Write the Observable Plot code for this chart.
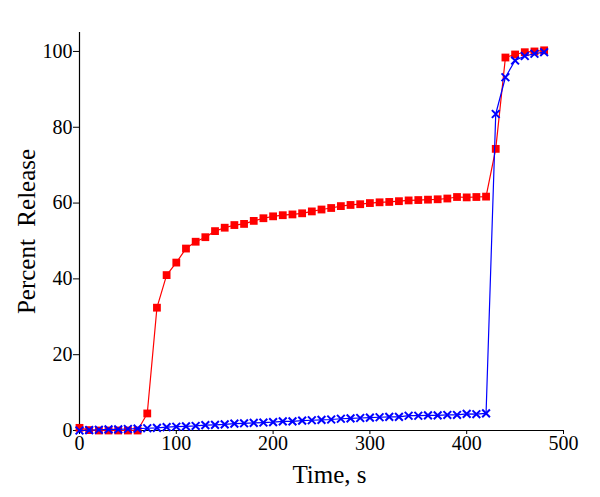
<!DOCTYPE html>
<html>
<head>
<meta charset="utf-8">
<script src="https://cdn.jsdelivr.net/npm/d3@7"></script>
<script src="https://cdn.jsdelivr.net/npm/@observablehq/plot@0.6"></script>
<style>
  html, body { margin: 0; padding: 0; background: #fff; }
  svg { white-space: pre; }
</style>
</head>
<body>
<div id="chart"></div>
<script>
const times = [0,10,20,30,40,50,60,70,80,90,100,110,120,130,140,150,160,170,180,190,200,210,220,230,240,250,260,270,280,290,300,310,320,330,340,350,360,370,380,390,400,410,420,430,440,450,460,470,480];
const redValues = [0.7,0.1,0,0,0,0,0,4.5,32.4,41,44.3,48,49.8,51,52.6,53.5,54.2,54.5,55.3,56,56.5,56.8,57,57.3,57.8,58.3,58.7,59.2,59.5,59.7,60,60.2,60.3,60.5,60.7,60.8,60.9,61,61.2,61.6,61.5,61.6,61.7,74.3,98.4,99.2,99.8,100,100.3];
const blueValues = [0,0.1,0.2,0.3,0.3,0.4,0.5,0.6,0.7,0.9,1.0,1.1,1.2,1.4,1.5,1.6,1.8,1.9,2.0,2.1,2.2,2.4,2.4,2.6,2.7,2.8,2.9,3.1,3.2,3.3,3.4,3.5,3.6,3.6,3.9,3.9,4.0,4.0,4.1,4.1,4.4,4.3,4.5,83.5,93.2,97.6,98.8,99.4,99.8];
const xTicks = [0,100,200,300,400,500];
const yTicks = [0,20,40,60,80,100];
const xLabel = "Time, s";
const yLabel = "Percent  Release";

const red = times.map((t, i) => ({t, v: redValues[i]}));
const blue = times.map((t, i) => ({t, v: blueValues[i]}));
const serif = "'Liberation Serif', 'Times New Roman', serif";

const chart = Plot.plot({
  width: 600,
  height: 497,
  marginLeft: 79,
  marginRight: 37,
  marginTop: 32,
  marginBottom: 67,
  style: {fontFamily: serif, fontSize: "20px", color: "#000", background: "#fff"},
  x: {domain: [0, 500]},
  y: {domain: [0, 105]},
  marks: [
    Plot.axisX({ticks: xTicks, tickSize: 4, tickPadding: 1, label: null, fontSize: 20, fontFamily: serif}),
    Plot.axisY({ticks: yTicks, tickSize: 6, tickPadding: 1, label: null, fontSize: 20, fontFamily: serif}),
    Plot.ruleY([0], {stroke: "#000", strokeWidth: 1.2}),
    Plot.ruleX([0], {stroke: "#000", strokeWidth: 1.2}),
    Plot.line(red, {x: "t", y: "v", stroke: "#ff0000", strokeWidth: 1.2}),
    Plot.dot(red, {x: "t", y: "v", symbol: "square", r: 4.4, fill: "#ff0000", stroke: "none"}),
    Plot.line(blue, {x: "t", y: "v", stroke: "#0000ff", strokeWidth: 1.2}),
    Plot.dot(blue, {x: "t", y: "v", symbol: "times", r: 3.6, stroke: "#0000ff", strokeWidth: 2}),
    Plot.text([xLabel], {frameAnchor: "bottom", lineAnchor: "bottom", dy: 52, dx: 8, fontSize: 25, fill: "#000", fontFamily: serif}),
    Plot.text([yLabel], {frameAnchor: "left", textAnchor: "middle", rotate: -90, lineAnchor: "bottom", dx: -45, fontSize: 25, fill: "#000", fontFamily: serif})
  ]
});
chart.querySelectorAll("text").forEach(t => {
  t.style.fontFamily = serif;
  if (/^\d+$/.test(t.textContent.trim())) t.style.fontSize = "20px";
});
document.getElementById("chart").appendChild(chart);
</script>
</body>
</html>
